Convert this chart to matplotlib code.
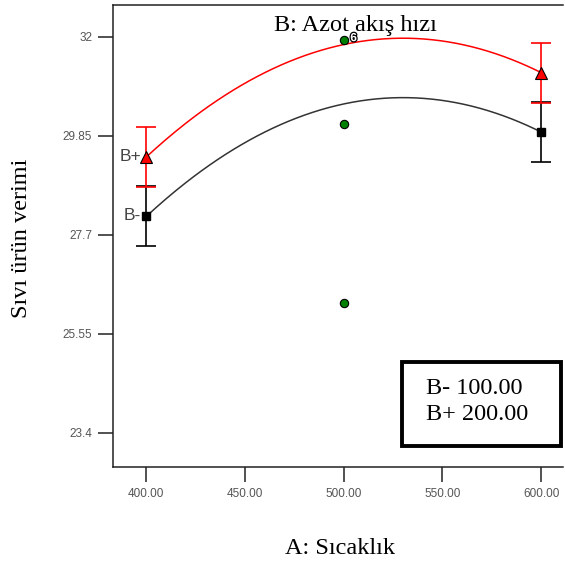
import matplotlib.pyplot as plt
import matplotlib.patheffects as pe
import numpy as np

# factor A levels (temperature) and factor B model predictions
temp_levels = [400, 600]
low_b_means = [28.11, 29.94]
high_b_means = [29.39, 31.22]
low_b_err = [0.65, 0.65]
high_b_err = [0.65, 0.65]

# fitted curves read at regular temperature steps
curve_x = [400, 420, 440, 460, 480, 500, 520, 540, 560, 580, 600]
curve_low = [28.09, 28.83, 29.44, 29.93, 30.30, 30.54, 30.66, 30.66, 30.54, 30.30, 29.93]
curve_high = [29.38, 30.12, 30.73, 31.22, 31.59, 31.83, 31.95, 31.95, 31.83, 31.59, 31.22]

# center point runs
center_x = [500, 500, 500]
center_y = [31.93, 30.11, 26.22]

y_ticks = [23.4, 25.55, 27.7, 29.85, 32]
y_tick_labels = ['23.4', '25.55', '27.7', '29.85', '32']
x_ticks = [400, 450, 500, 550, 600]
x_tick_labels = ['400.00', '450.00', '500.00', '550.00', '600.00']

serif = 'Liberation Serif'
sans = 'Liberation Sans'


def smooth(xs, ys):
    coef = np.polyfit(xs, ys, 2)
    xx = np.linspace(min(xs), max(xs), 200)
    return xx, np.polyval(coef, xx)


def main():
    fig = plt.figure(figsize=(5.65, 5.66), dpi=100)
    ax = fig.add_axes([0.2, 0.175, 0.7965, 0.8162])

    xx, yy = smooth(curve_x, curve_low)
    ax.plot(xx, yy, color='#333333', lw=1.1, zorder=2)
    xx, yy = smooth(curve_x, curve_high)
    ax.plot(xx, yy, color='red', lw=1.1, zorder=2)

    ax.errorbar(temp_levels, low_b_means, yerr=low_b_err, fmt='none',
                ecolor='black', elinewidth=1.2, capsize=7, capthick=1.2, zorder=3)
    ax.errorbar(temp_levels, high_b_means, yerr=high_b_err, fmt='none',
                ecolor='red', elinewidth=1.2, capsize=7, capthick=1.2, zorder=4)

    ax.plot(temp_levels, low_b_means, 's', color='black', ms=6, zorder=5)
    ax.plot(temp_levels, high_b_means, '^', mfc='red', mec='black', mew=0.8, ms=8, zorder=5)

    ax.plot(center_x, center_y, 'o', mfc='#008000', mec='black', mew=0.8, ms=6, zorder=6)
    ax.text(505, center_y[0] + 0.04, '6', fontsize=8.5, color='white', fontfamily=sans,
            fontweight='bold', ha='center', va='center', zorder=7,
            path_effects=[pe.withStroke(linewidth=1.8, foreground='black')])

    ax.text(397.5, high_b_means[0], 'B+', fontsize=12.5, color='#444444', fontfamily=sans,
            ha='right', va='center', zorder=6)
    ax.text(397.5, low_b_means[0], 'B-', fontsize=12.5, color='#444444', fontfamily=sans,
            ha='right', va='center', zorder=6)

    ax.set_xlim(383.3, 611)
    ax.set_ylim(22.66, 32.69)
    ax.set_xticks(x_ticks)
    ax.set_xticklabels(x_tick_labels)
    ax.set_yticks(y_ticks)
    ax.set_yticklabels(y_tick_labels)
    ax.tick_params(axis='both', direction='out', length=11, width=1.1, color='#222222',
                   labelsize=8.5, labelcolor='#555555', pad=4)
    for lab in ax.get_xticklabels() + ax.get_yticklabels():
        lab.set_fontfamily(sans)
    ax.spines['right'].set_visible(False)
    for s in ['left', 'bottom', 'top']:
        ax.spines[s].set_linewidth(1.1)
        ax.spines[s].set_color('#222222')

    fig.text(355 / 565, 1 - 25 / 566, 'B: Azot akış hızı', fontsize=17.5, fontfamily=serif,
             ha='center', va='center')
    fig.text(340 / 565, 1 - 548 / 566, 'A: Sıcaklık', fontsize=17.5, fontfamily=serif,
             ha='center', va='center')
    fig.text(22 / 565, 1 - 238 / 566, 'Sıvı ürün verimi', fontsize=17.5, fontfamily=serif,
             ha='center', va='center', rotation=90)

    # legend box for factor B levels
    box = plt.Rectangle((402 / 565, 1 - 446 / 566), 159 / 565, 84 / 566, transform=fig.transFigure,
                        fill=False, lw=2.8, edgecolor='black')
    fig.add_artist(box)
    fig.text(426 / 565, 1 - 388 / 566, 'B- 100.00', fontsize=17.5, fontfamily=serif, va='center')
    fig.text(426 / 565, 1 - 415 / 566, 'B+ 200.00', fontsize=17.5, fontfamily=serif, va='center')

    fig.savefig('out.png', dpi=100)


if __name__ == '__main__':
    main()
